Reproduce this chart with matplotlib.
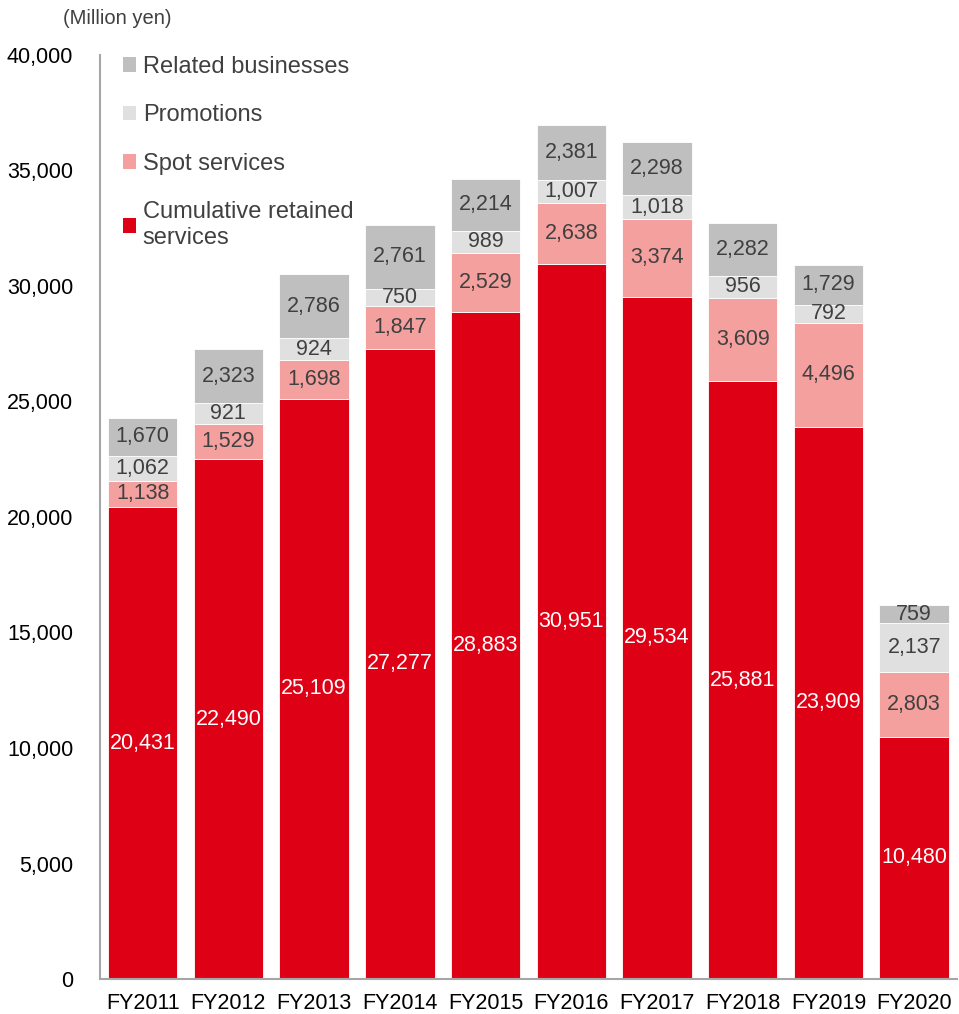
import numpy as np
import matplotlib.pyplot as plt

plt.rcParams['font.family'] = ['Liberation Sans', 'DejaVu Sans']

years = ['FY2011', 'FY2012', 'FY2013', 'FY2014', 'FY2015',
         'FY2016', 'FY2017', 'FY2018', 'FY2019', 'FY2020']
cumulative = [20431, 22490, 25109, 27277, 28883, 30951, 29534, 25881, 23909, 10480]
spot = [1138, 1529, 1698, 1847, 2529, 2638, 3374, 3609, 4496, 2803]
promotions = [1062, 921, 924, 750, 989, 1007, 1018, 956, 792, 2137]
related = [1670, 2323, 2786, 2761, 2214, 2381, 2298, 2282, 1729, 759]

series = [
    ('Cumulative retained\nservices', cumulative, '#DE0014', 'white'),
    ('Spot services', spot, '#F4A09E', '#404040'),
    ('Promotions', promotions, '#E0E0E0', '#404040'),
    ('Related businesses', related, '#BFBFBF', '#404040'),
]

fig = plt.figure(figsize=(9.59, 10.14), dpi=100)
ax = fig.add_axes([0.104, 0.0345, 0.894, 0.9113])

x = np.arange(len(years))
bottom = np.zeros(len(years))
handles = []
for name, vals, color, tcolor in series:
    vals = np.array(vals, dtype=float)
    bars = ax.bar(x, vals, 0.81, bottom=bottom, color=color, label=name,
                  edgecolor='white', linewidth=0.6)
    handles.append(bars)
    for xi, b, v in zip(x, bottom, vals):
        ax.text(xi, b + v / 2, f'{int(v):,}', ha='center', va='center',
                fontsize=15.5, color=tcolor)
    bottom += vals

ax.set_xlim(-0.5, len(years) - 0.5)
ax.set_ylim(0, 40000)
ax.set_yticks(np.arange(0, 40001, 5000))
ax.set_yticklabels([f'{v:,}' for v in range(0, 40001, 5000)])
ax.set_xticks(x)
ax.set_xticklabels(years)
ax.tick_params(axis='both', length=0, labelsize=15.5, colors='black')
ax.tick_params(axis='y', pad=19)
ax.tick_params(axis='x', pad=10)
for s in ['top', 'right']:
    ax.spines[s].set_visible(False)
for s in ['left', 'bottom']:
    ax.spines[s].set_color('#A6A6A6')
    ax.spines[s].set_linewidth(1.5)

leg = ax.legend(handles[::-1], [h.get_label() for h in handles[::-1]],
                loc='upper left', bbox_to_anchor=(0.002, 1.022), frameon=False,
                fontsize=17, handlelength=0.55, handleheight=0.6,
                handletextpad=0.3, labelspacing=1.12, labelcolor='#404040')
for h in leg.legend_handles:
    h.set_edgecolor('none')

fig.text(0.066, 0.982, '(Million yen)', fontsize=14.5, color='#404040',
         ha='left', va='center')

fig.savefig('out.png', dpi=100)
